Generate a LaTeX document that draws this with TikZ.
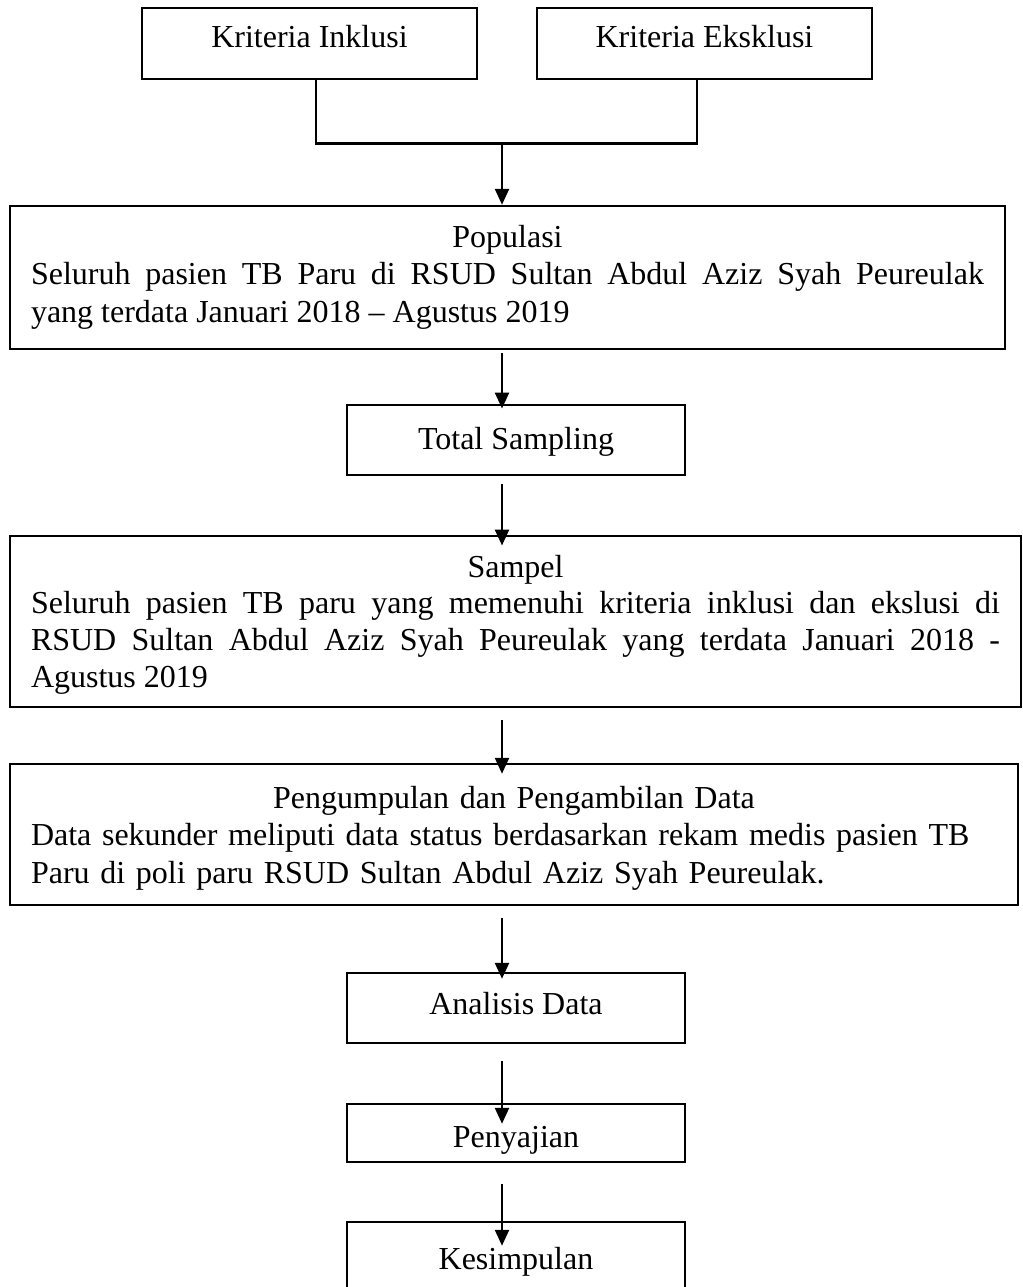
\documentclass[tikz,border=0pt]{standalone}
\usepackage{fontspec}
\setmainfont{Liberation Serif}
\usepackage{tikz}
\usetikzlibrary{calc,positioning,arrows.meta}
\tolerance=9999
\hbadness=10000
\newcommand{\upstrut}[1]{\rule{0pt}{#1}}
\newcommand{\downstrut}[1]{\rule[-#1]{0pt}{#1}}
\tikzset{node distance=24pt, auto,
  box/.style={draw, line width=1pt, inner xsep=8.4pt, inner ysep=0pt,
    font=\fontsize{12.8}{15}\selectfont},
  topbox/.style={box, minimum width=134pt, text height=15.8pt, text depth=12.6pt},
  smallbox/.style={box, minimum width=135.2pt},
  bigbox/.style={box, align=justify},
  link/.style={line width=1pt},
  arr/.style={line width=1pt, -{Triangle[length=6.4pt,width=5.6pt]}}}

\begin{document}
\begin{tikzpicture}
          \useasboundingbox (0,0) rectangle (409.2pt,-514.8pt);
          \node[topbox] (inkl) at (123.8pt,-17.4pt) {Kriteria Inklusi};
          \node[topbox, right=23pt of inkl] (eksk) {Kriteria Eksklusi};
          \coordinate (join) at (200.8pt,-57.4pt);
          \node[bigbox, text width=381.2pt, below=49.8pt of inkl, xshift=79.2pt] (pop)
            {{\centering\upstrut{16.4pt}Populasi\par}
             Seluruh pasien TB Paru di RSUD Sultan Abdul Aziz Syah Peureulak\linebreak
             yang terdata Januari 2018 – Agustus 2019\downstrut{10.7pt}};
          \node[smallbox, text height=18pt, text depth=10pt, below=21.4pt of pop, xshift=3.4pt] (total) {Total Sampling};
          \node[bigbox, text width=387.6pt, font=\fontsize{12.8}{14.7}\selectfont,
                below=23.4pt of total, xshift=-0.2pt] (sampel)
            {{\centering\upstrut{16.5pt}Sampel\par}
             Seluruh pasien TB paru yang memenuhi kriteria inklusi dan ekslusi di\linebreak
             RSUD Sultan Abdul Aziz Syah Peureulak yang terdata Januari 2018 -\linebreak
             Agustus 2019\downstrut{7.9pt}};
          \node[box, align=left, text width=386.4pt, below=21.8pt of sampel, xshift=-0.6pt] (peng)
            {\makebox[386.4pt]{\upstrut{17.6pt}Pengumpulan dan Pengambilan Data}\\
             Data sekunder meliputi data status berdasarkan rekam medis pasien TB\\
             Paru di poli paru RSUD Sultan Abdul Aziz Syah Peureulak.\downstrut{8.8pt}};
          \node[smallbox, text height=16.4pt, text depth=11.6pt, below=26.2pt of peng, xshift=0.8pt] (anal) {Analisis Data};
          \node[smallbox, text height=17.2pt, text depth=6pt, below=23.4pt of anal] (saji) {Penyajian};
          \node[smallbox, text height=18.8pt, text depth=9.2pt, below=23pt of saji] (simpul) {Kesimpulan};
          \draw[link] ([xshift=2.6pt]inkl.south) |- (join) -| ([xshift=-3pt]eksk.south);
          \draw[arr] (join) -- (join |- pop.north);
          \draw[arr, shorten <=1.2pt, shorten >=-2pt] (pop.south -| join) -- (total.north -| join);
          \draw[arr, shorten <=3.2pt, shorten >=-4.4pt] (total.south -| join) -- (sampel.north -| join);
          \draw[arr, shorten <=4.8pt, shorten >=-4.4pt] (sampel.south -| join) -- (peng.north -| join);
          \draw[arr, shorten <=4.8pt, shorten >=-2.8pt] (peng.south -| join) -- (anal.north -| join);
          \draw[arr, shorten <=6.8pt, shorten >=-8.4pt] (anal.south -| join) -- (saji.north -| join);
          \draw[arr, shorten <=8.4pt, shorten >=-10pt] (saji.south -| join) -- (simpul.north -| join);
        \end{tikzpicture}
\end{document}
